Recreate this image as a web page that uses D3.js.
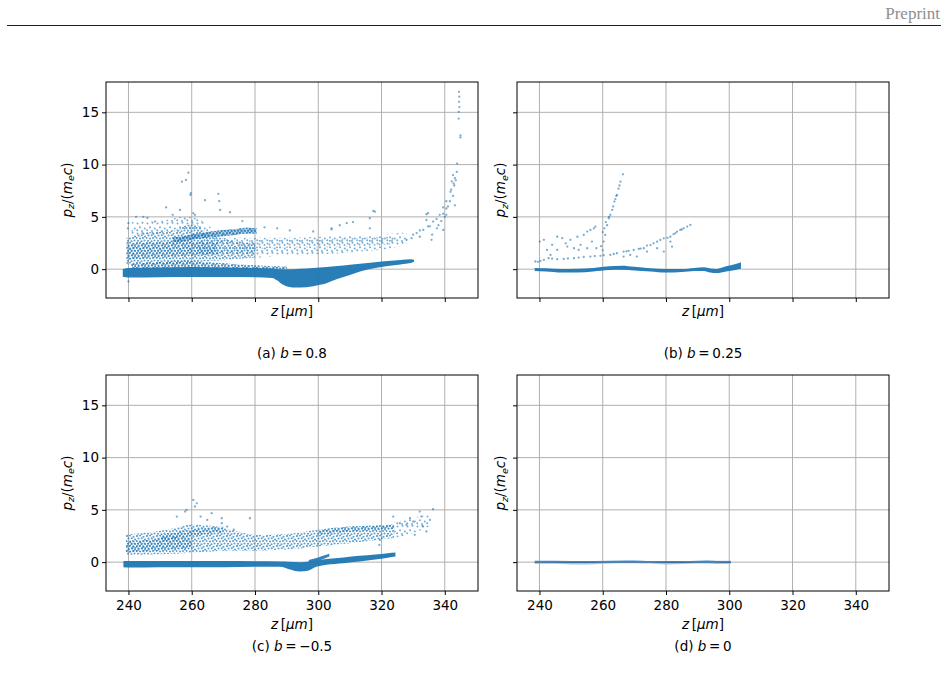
<!DOCTYPE html>
<html><head><meta charset="utf-8">
<script src="https://cdn.jsdelivr.net/npm/d3@7"></script>
<style>body{margin:0;background:#fff}svg{display:block}</style>
</head><body>
<svg id="chart" width="948" height="692"></svg>
<script>
// ---------------- DATA ----------------
const zTicks = [240, 260, 280, 300, 320, 340];
const pTicks = [0, 5, 10, 15];
const zDomain = [232.9, 350.5];
const pDomain = [-2.76, 17.9];
const captionPrefix = ["(a) ", "(b) ", "(c) ", "(d) "];
const captionValue = ["0.8", "0.25", "\u22120.5", "0"];

// [z, p_low, p_high] bands
const aCore = [[238.2,-0.72,0.0],[240,-0.8,0.1],[250,-0.78,0.15],[260,-0.75,0.2],[270,-0.75,0.15],[280,-0.78,0.1],[285.5,-0.85,0.05],[286.8,-1.05,0.02],[288.9,-1.5,0.0],[292.1,-1.75,0.0],[296.3,-1.72,0.05],[300.5,-1.5,0.15],[302.6,-1.34,0.2],[306,-0.95,0.3],[310,-0.55,0.42],[313.2,-0.22,0.52],[318,0.1,0.66],[322,0.3,0.77],[326,0.45,0.88],[329.5,0.6,0.95],[330.3,0.7,0.88]];
const aLip = [[241,0.05,0.5],[250,0.1,0.65],[258,0.15,0.8],[265,0.1,0.65],[275,0.05,0.45],[285,0.0,0.3],[290,0.0,0.25]];
const aCloudDense = [[239.4,0.4,3.0],[242,0.4,3.3],[246,0.45,3.5],[250,0.5,3.6],[255,0.55,3.7],[258,0.6,4.2],[261,0.7,4.3],[265,0.75,3.4],[270,0.85,2.9],[275,1.0,2.6],[280,1.1,2.5]];
const aCloudCore = [[239.4,0.9,2.4],[244,1.0,2.5],[250,1.1,2.6],[256,1.2,2.7],[262,1.3,2.6],[268,1.4,2.5]];
const aStrand = [[254,2.55,3.0],[258,2.7,3.2],[262,2.9,3.4],[266,3.05,3.6],[270,3.15,3.75],[274,3.3,3.85],[278,3.4,3.95],[280.5,3.4,3.9]];
const aCloudSparse = [[262,1.2,2.8],[270,1.2,3.0],[280,1.1,3.0],[290,1.3,3.0],[300,1.4,3.1],[310,1.6,3.2],[318,1.8,3.3],[324,2.0,3.4],[328,2.4,3.5]];
const aCloudMid = [[275,1.9,2.7],[285,2.0,2.8],[295,2.1,2.8],[305,2.1,2.9],[315,2.2,3.0],[324,2.4,3.1]];
const aCloudUpper = [[241,3.0,4.5],[250,3.4,4.6],[258,3.8,5.0],[262,3.8,4.8],[266,3.3,4.0]];
const aPoints = [[344.5,16.96],[344.6,16.5],[344.5,16.0],[344.6,15.5],[344.4,15.05],[344.4,14.4],[344.95,12.8],[344.95,12.6],[343.9,10.1],[343.8,9.3],[342.6,9.0],[343.2,8.7],[342.2,8.4],[343.0,8.0],[341.8,7.4],[342.6,7.0],[340.5,6.5],[341.6,6.5],[343.2,6.1],[339.5,5.9],[340.5,5.8],[340.5,5.2],[339.5,5.3],[338.4,5.2],[340,5.0],[337.4,4.8],[338.9,4.6],[336.3,4.55],[334.7,5.35],[334.2,4.7],[334.2,5.25],[335.3,4.1],[334.7,4.1],[333.2,3.75],[332.1,3.7],[331.1,3.45],[332.1,3.1],[339.5,3.75],[335.8,2.8],[338,4.2],[329.5,2.96],[327.9,2.8],[330,3.3],[336,3.3],[337.5,3.9],[341,6.0],[342,7.6],[343.5,8.5],[342.8,8.2],
  [258.95,9.23],[258.2,8.53],[256.9,8.37],[259.7,7.26],[259.6,7.1],[268.4,7.2],[268.7,6.5],[264.2,6.6],[251.9,5.9],[256.3,5.66],[272.1,5.44],[269,5.66],[317.4,5.57],[248.4,4.55],[242.4,5.0],[244.7,5.0],[240,4.4],[239.8,3.9],[311,4.5],[309,4.4],[316.3,4.87],[316.3,3.9],[304.2,3.9],[298.4,3.6],[240,-1.18],[260.5,5.35],[261,5.2],[317.9,5.5],[306.8,4.2],[304.2,3.8],[291,3.7],[287,3.9],[283,4.0],[276,4.6],[254,5.2],[246,4.9]];

const bBand = [[238.5,-0.18,0.12],[242,-0.22,0.08],[247,-0.32,0.02],[252,-0.32,0.04],[257,-0.22,0.12],[262,-0.08,0.27],[266,-0.06,0.32],[270,-0.12,0.22],[275,-0.22,0.08],[280,-0.32,0.02],[285,-0.27,0.02],[289,-0.17,0.12],[292,-0.17,0.17],[294,-0.32,0.07],[296,-0.37,0.02],[299,-0.22,0.27],[302,-0.07,0.5],[303.7,0.03,0.67]];
const bPoints = [[238.7,0.73],[240.3,0.79],[241.4,0.89],[242.9,1.05],[245.6,0.95],[247.7,0.98],[250.9,1.05],[252.4,1.11],[256.1,1.2],[259.3,1.27],[262.4,1.36],[264.5,1.52],[266.6,1.68],[269.8,1.84],[271.4,1.93],[273,2.0],[275.1,2.3],[276.1,2.47],[277.2,2.63],[279.3,2.95],[281.4,3.1],[283.5,3.59],[285.6,3.9],[287.7,4.23],[286.7,4.07],[284.5,3.75],[282.4,3.34],[278.2,2.79],[274,2.25],[268.2,1.74],[260.3,1.33],[254,1.17],
  [239.5,0.7],[244,1.0],[249,1.02],[257.5,1.25],[263.5,1.45],[267.5,1.7],[272,1.97],[280.5,3.0],[285,3.8],[283,3.45],
  [268.7,1.36],[270.8,1.2],[277.2,2.0],[279.3,1.68],[281.9,2.16],[274,1.68],[266.6,1.2],[281.4,2.63],
  [260.3,2.64],[260.8,3.27],[261.4,4.2],[261.9,4.87],[262.4,5.2],[263,5.66],[263.7,6.46],[264.3,7.0],[264.5,7.1],[265,7.7],[265.6,8.37],[266.4,9.07],[260,3.55],[260.5,3.9],[261,4.5],[262,5.0],[263.3,6.0],[264,6.7],[265.3,8.0],[259.5,2.2],[260,1.8],
  [240.1,2.64],[241.4,2.8],[244,2.33],[245.6,3.1],[247.2,2.96],[248.3,2.47],[249.8,2.8],[250.9,2.0],[252,3.1],[253,2.33],[254,3.27],[255.1,3.59],[256.1,3.75],[257.2,3.9],[257.7,4.07],[258,2.0],[256.6,2.64],[255.1,2.0],[243.5,1.36],[245.6,1.84],[248.8,2.16],[252.4,1.84],[242.4,1.84]];

const cCore = [[238.4,-0.5,0.1],[240,-0.52,0.12],[250,-0.5,0.12],[260,-0.48,0.12],[270,-0.48,0.1],[280,-0.45,0.08],[288,-0.45,0.05],[290.5,-0.65,0.03],[294.2,-0.9,0.0],[297,-0.8,0.05],[299,-0.5,0.15],[302.6,-0.26,0.29],[308,-0.1,0.45],[313,0.06,0.6],[318,0.25,0.73],[322,0.42,0.85],[324.4,0.53,0.92]];
const cSpur = [[297,0.0,0.2],[300,0.15,0.45],[302,0.35,0.65],[303.5,0.55,0.8]];
const cCloud = [[239.2,0.7,2.6],[245,0.7,2.8],[250,0.75,3.0],[255,0.8,3.3],[260,0.9,3.6],[265,1.0,3.5],[270,1.1,3.3],[275,1.1,2.9],[280,1.1,2.6],[290,1.2,2.7],[300,1.5,3.1],[310,1.8,3.4],[318,2.1,3.5],[324,2.3,3.6]];
const cCloudCore = [[239.2,0.9,2.0],[245,1.0,2.1],[250,1.1,2.3],[255,1.2,2.4],[260,1.3,2.3]];
const cStrand = [[250,2.0,2.6],[258,2.4,3.0],[265,2.7,3.3],[270,2.8,3.4]];
const cStrand2 = [[300,2.6,3.1],[310,2.9,3.4],[320,3.1,3.5],[324,3.2,3.6]];
const cSparse = [[324,2.3,3.8],[328,2.6,4.1],[332,3.0,4.4],[335,3.4,4.5]];
const cPoints = [[260.5,5.95],[261.0,5.32],[261.6,5.63],[257.9,4.84],[258.4,5.0],[266.3,4.68],[269.5,4.2],[269.5,3.72],[278.4,4.2],[336.3,5.06],[332.1,4.84],[332.6,4.36],[335.3,4.04],[334.2,2.93],[330,3.88],[327.9,3.56],[325.8,3.72],[330.5,2.61],[319.5,2.13],[319.3,1.65],[323.7,4.36],[329,4.2],[333.1,3.4],[262.8,4.36],[264.9,4.04],[271.2,3.4],[273.3,3.1],[255.3,4.36]];

const dBand = [[238.5,-0.18,0.16],[245,-0.16,0.16],[250,-0.22,0.1],[255,-0.22,0.1],[260,-0.16,0.14],[265,-0.1,0.18],[270,-0.1,0.2],[275,-0.14,0.1],[280,-0.22,0.1],[285,-0.18,0.1],[290,-0.14,0.16],[293,-0.14,0.2],[296,-0.18,0.14],[300.5,-0.16,0.14]];
const dLine = [[238.5,0.02],[250,0.0],[260,0.01],[270,0.02],[280,0.0],[290,0.01],[300.5,0.0]];

// ---------------- DRAWING ----------------
const svg = d3.select('#chart');
const W = 372, H = 216;
const blue = '#1f77b4';
const FONT = 'DejaVu Sans, sans-serif';
const defs = svg.append('defs');

function makePattern(id, size, dots, r, op) {
  const p = defs.append('pattern').attr('id', id).attr('patternUnits', 'userSpaceOnUse')
    .attr('width', size).attr('height', size);
  p.selectAll('circle').data(dots).join('circle')
    .attr('cx', d => d[0]).attr('cy', d => d[1]).attr('r', r)
    .attr('fill', blue).attr('opacity', op);
}
const denseDots = [[1,1],[4,0.5],[7.5,1.8],[2.5,3.5],[5.8,3.2],[9,4.5],[0.5,6],[4,6.5],[7,6],[2,8.8],[5.5,9.2],[8.5,8.5]];
makePattern('dense', 10, denseDots, 1.05, 0.7);
makePattern('dense2', 10, denseDots.map(d => [(d[0] + 5.2) % 10, (d[1] + 2.6) % 10]), 1.05, 0.7);
makePattern('sparse', 10, [[1.5,1.5],[6.5,0.8],[4,5.2],[8.8,6.5],[1.2,8.3],[6,9]], 1.0, 0.6);
makePattern('sparse2', 10, [[3.5,2.5],[8.5,3],[1,5.5],[6.5,6.8],[3.8,8.8]], 1.0, 0.6);

// header
svg.append('text').attr('x', 940).attr('y', 19).attr('text-anchor', 'end')
  .attr('font-family', 'Liberation Serif, serif').attr('font-size', 17).attr('fill', '#8f8f8f').text('Preprint');
svg.append('line').attr('x1', 7).attr('x2', 941).attr('y1', 25.5).attr('y2', 25.5)
  .attr('stroke', '#222').attr('stroke-width', 1);

const panels = [
  {id: 'a', left: 106, top: 82, yLab: true, xLab: false, ylabX: 71.5, zlabY: 316, capY: 358,
   layers: [{d: aCloudUpper, f: 'url(#sparse)'}, {d: aCloudSparse, f: 'url(#sparse)'}, {d: aCloudMid, f: 'url(#sparse2)'},
            {d: aCloudDense, f: 'url(#dense)'}, {d: aCloudCore, f: 'url(#dense2)'},
            {d: aStrand, f: 'url(#dense)'}, {d: aStrand, f: 'url(#dense2)'}, {d: aStrand, f: blue, o: 0.35},
            {d: aLip, f: 'url(#dense)'}, {d: aLip, f: 'url(#dense2)'}, {d: aCore, f: blue, o: 0.95}],
   points: aPoints},
  {id: 'b', left: 517, top: 82, yLab: false, xLab: false, ylabX: 505, zlabY: 316, capY: 358,
   layers: [{d: bBand, f: blue, o: 0.95}], points: bPoints},
  {id: 'c', left: 106, top: 375, yLab: true, xLab: true, ylabX: 71.5, zlabY: 629, capY: 651,
   layers: [{d: cSparse, f: 'url(#sparse)'}, {d: cCloud, f: 'url(#dense)'}, {d: cCloudCore, f: 'url(#dense2)'},
            {d: cStrand, f: 'url(#dense2)'}, {d: cStrand2, f: 'url(#dense2)'}, {d: cSpur, f: blue, o: 0.9}, {d: cCore, f: blue, o: 0.95}],
   points: cPoints},
  {id: 'd', left: 517, top: 375, yLab: false, xLab: true, ylabX: 505, zlabY: 629, capY: 651,
   layers: [{d: dBand, f: '#8dbbe2', o: 0.85}], points: [], line: dLine}
];

panels.forEach((p, i) => {
  const x = d3.scaleLinear().domain(zDomain).range([0, W]);
  const y = d3.scaleLinear().domain(pDomain).range([H, 0]);
  const g = svg.append('g').attr('transform', `translate(${p.left},${p.top})`);

  // grid
  g.append('g').selectAll('line').data(zTicks).join('line')
    .attr('x1', d => x(d)).attr('x2', d => x(d)).attr('y1', 0).attr('y2', H)
    .attr('stroke', '#b0b0b0').attr('stroke-width', 1);
  g.append('g').selectAll('line').data(pTicks).join('line')
    .attr('y1', d => y(d)).attr('y2', d => y(d)).attr('x1', 0).attr('x2', W)
    .attr('stroke', '#b0b0b0').attr('stroke-width', 1);

  // marks
  defs.append('clipPath').attr('id', 'clip' + p.id).append('rect').attr('width', W).attr('height', H);
  const m = g.append('g').attr('clip-path', `url(#clip${p.id})`);
  const area = d3.area().x(d => x(d[0])).y0(d => y(d[1])).y1(d => y(d[2])).curve(d3.curveMonotoneX);
  p.layers.forEach(L => {
    m.append('path').datum(L.d).attr('d', area).attr('fill', L.f).attr('opacity', L.o || 1);
  });
  if (p.line) {
    const ln = d3.line().x(d => x(d[0])).y(d => y(d[1])).curve(d3.curveMonotoneX);
    m.append('path').datum(p.line).attr('d', ln).attr('fill', 'none')
      .attr('stroke', '#3d6f9c').attr('stroke-width', 1.6);
  }
  m.append('g').selectAll('circle').data(p.points).join('circle')
    .attr('cx', d => x(d[0])).attr('cy', d => y(d[1])).attr('r', 1.15)
    .attr('fill', blue).attr('opacity', 0.6);

  // axes
  const xa = d3.axisBottom(x).tickValues(zTicks).tickSize(4).tickPadding(5.5)
    .tickFormat(d => p.xLab ? d : '');
  const ya = d3.axisLeft(y).tickValues(pTicks).tickSize(4).tickPadding(3)
    .tickFormat(d => p.yLab ? d : '');
  [g.append('g').attr('transform', `translate(0,${H})`).call(xa), g.append('g').call(ya)].forEach(a => {
    a.select('.domain').remove();
    a.selectAll('line').attr('stroke', '#000').attr('stroke-width', 1);
    a.selectAll('text').attr('font-family', FONT).attr('font-size', 13.5).attr('fill', '#000');
  });

  // frame
  g.append('rect').attr('width', W).attr('height', H).attr('fill', 'none')
    .attr('stroke', '#000').attr('stroke-width', 1);

  // y label
  const yl = svg.append('text').attr('font-family', FONT).attr('font-size', 13.5)
    .attr('transform', `translate(${p.ylabX},${p.top + H / 2}) rotate(-90)`).attr('text-anchor', 'middle');
  yl.append('tspan').attr('font-style', 'italic').text('p');
  yl.append('tspan').attr('font-style', 'italic').attr('font-size', 9.5).attr('dy', 2.5).text('z');
  yl.append('tspan').attr('dy', -2.5).text('/(');
  yl.append('tspan').attr('font-style', 'italic').text('m');
  yl.append('tspan').attr('font-style', 'italic').attr('font-size', 9.5).attr('dy', 2.5).text('e');
  yl.append('tspan').attr('font-style', 'italic').attr('dy', -2.5).text('c');
  yl.append('tspan').text(')');

  // z label
  const zl = svg.append('text').attr('font-family', FONT).attr('font-size', 13.5)
    .attr('x', p.left + W / 2).attr('y', p.zlabY).attr('text-anchor', 'middle');
  zl.append('tspan').attr('font-style', 'italic').text('z');
  zl.append('tspan').text('\u2009[');
  zl.append('tspan').attr('font-style', 'italic').text('\u03bcm');
  zl.append('tspan').text(']');

  // caption
  const cap = svg.append('text').attr('font-family', FONT).attr('font-size', 13.5)
    .attr('x', p.left + W / 2).attr('y', p.capY).attr('text-anchor', 'middle');
  cap.append('tspan').text(captionPrefix[i]);
  cap.append('tspan').attr('font-style', 'italic').text('b');
  cap.append('tspan').text('\u2009=\u2009' + captionValue[i]);
});
</script>
</body></html>
